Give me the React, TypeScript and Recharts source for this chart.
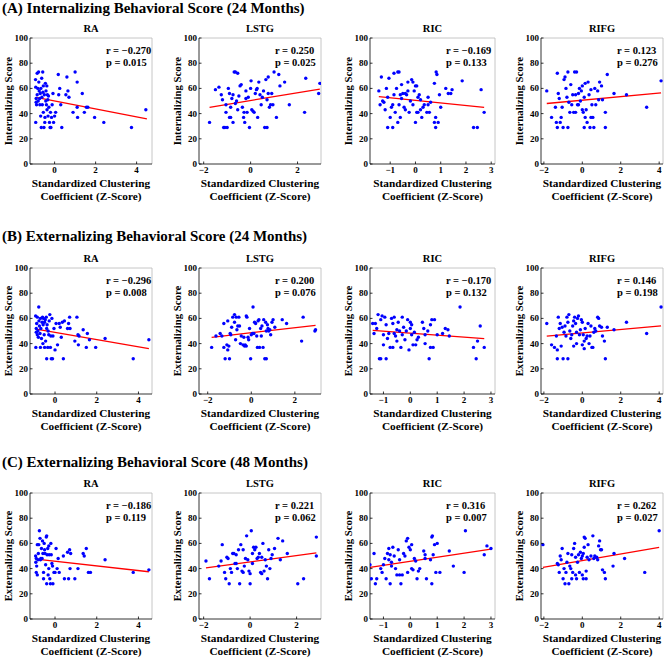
import { ScatterChart, Scatter, XAxis, YAxis, ReferenceLine } from 'recharts';

const FONT = '"Liberation Serif", "Times New Roman", serif';

const ROW_TITLES = [
  '(A) Internalizing Behavioral Score (24 Months)',
  '(B) Externalizing Behavioral Score (24 Months)',
  '(C) Externalizing Behavioral Score (48 Months)',
];
const ROW_YLABELS = ['Internalizing Score', 'Externalizing Score', 'Externalizing Score'];
const REGIONS = ['RA', 'LSTG', 'RIC', 'RIFG'];
const X_TICKS = [[0, 2, 4], [-2, 0, 2], [-1, 0, 1, 2, 3], [-2, 0, 2, 4]];
const Y_TICKS = [0, 20, 40, 60, 80, 100];

const X_DOMAINS = [
  [[-1.2, 4.75], [-2.2, 3.0], [-1.8, 3.15], [-2.15, 4.2]],
  [[-1.2, 4.65], [-2.4, 3.2], [-1.5, 3.15], [-2.15, 4.2]],
  [[-1.2, 4.65], [-2.2, 3.05], [-1.5, 3.15], [-2.15, 4.2]],
];

const R_TEXT = [
  ['r = \u22120.270', 'r = 0.250', 'r = \u22120.169', 'r = 0.123'],
  ['r = \u22120.296', 'r = 0.200', 'r = \u22120.170', 'r = 0.146'],
  ['r = \u22120.186', 'r = 0.221', 'r = 0.316', 'r = 0.262'],
];
const P_TEXT = [
  ['p = 0.015', 'p = 0.025', 'p = 0.133', 'p = 0.276'],
  ['p = 0.008', 'p = 0.076', 'p = 0.132', 'p = 0.198'],
  ['p = 0.119', 'p = 0.062', 'p = 0.007', 'p = 0.027'],
];

// fitted line end points [x1, y1, x2, y2]
const FITS = [
  [[-0.9, 52.8, 4.5, 35.8], [-1.75, 45, 2.95, 59.5], [-1.45, 53.5, 2.72, 45], [-1.85, 48, 4.1, 56.5]],
  [[-0.9, 51.5, 4.5, 36], [-1.82, 45, 2.95, 54.5], [-1.4, 50.5, 2.75, 44], [-1.85, 46, 4.1, 54]],
  [[-0.9, 47.5, 4.5, 37.5], [-1.9, 40.5, 2.85, 52.5], [-1.5, 41, 3.0, 55.5], [-2.05, 41, 4.0, 56.8]],
];

const A_RA = [
  [-0.93, 67], [-0.92, 61], [-0.92, 33], [-0.9, 52], [-0.9, 49], [-0.88, 47], [-0.85, 72], [-0.85, 55],
  [-0.82, 60], [-0.8, 50], [-0.78, 73], [-0.77, 65], [-0.75, 58], [-0.73, 52], [-0.72, 47], [-0.7, 56],
  [-0.68, 38], [-0.67, 60], [-0.65, 29], [-0.63, 68], [-0.62, 53], [-0.6, 47], [-0.58, 73], [-0.57, 57],
  [-0.55, 62], [-0.55, 41], [-0.52, 29], [-0.5, 55], [-0.48, 33], [-0.47, 37], [-0.45, 64], [-0.43, 50],
  [-0.42, 58], [-0.4, 47], [-0.38, 62], [-0.37, 43], [-0.35, 55], [-0.33, 51], [-0.32, 38], [-0.3, 54],
  [-0.28, 45], [-0.25, 33], [-0.22, 29], [-0.2, 41], [-0.18, 29], [-0.15, 37], [-0.12, 47], [-0.08, 56],
  [-0.05, 33], [0.0, 38], [0.05, 41], [0.18, 71], [0.2, 55], [0.25, 60], [0.3, 47], [0.35, 29],
  [0.55, 55], [0.6, 69], [0.65, 58], [0.7, 53], [0.9, 41], [1.0, 73], [1.1, 65], [1.1, 45],
  [1.12, 37], [1.35, 56], [1.45, 41], [1.55, 45], [1.62, 45], [1.95, 37], [2.4, 33], [3.75, 29], [4.45, 43],
];
const A_LSTG = [
  [-1.75, 33], [-1.5, 59], [-1.35, 61], [-1.25, 55], [-1.2, 51], [-1.15, 29], [-1.1, 29], [-1.05, 47],
  [-1.05, 41], [-1.0, 29], [-0.95, 60], [-0.9, 37], [-0.9, 56], [-0.85, 45], [-0.85, 37], [-0.8, 52],
  [-0.75, 33], [-0.75, 55], [-0.7, 73], [-0.65, 73], [-0.65, 48], [-0.6, 50], [-0.55, 72], [-0.55, 43],
  [-0.5, 54], [-0.45, 62], [-0.4, 63], [-0.35, 45], [-0.3, 37], [-0.28, 41], [-0.25, 33], [-0.2, 58],
  [-0.2, 52], [-0.15, 41], [-0.1, 53], [-0.05, 29], [0.0, 60], [0.02, 66], [0.05, 43], [0.1, 42],
  [0.15, 41], [0.2, 56], [0.25, 59], [0.28, 60], [0.3, 37], [0.35, 65], [0.4, 55], [0.45, 47],
  [0.5, 53], [0.55, 58], [0.6, 29], [0.65, 67], [0.7, 29], [0.7, 51], [0.75, 69], [0.75, 56],
  [0.8, 45], [0.85, 47], [0.9, 56], [0.95, 47], [1.0, 73], [1.1, 37], [1.2, 71], [1.25, 62],
  [1.45, 65], [1.65, 47], [2.35, 68], [2.3, 41], [2.9, 56], [2.95, 64],
];
const A_RIC = [
  [-1.45, 58], [-1.4, 47], [-1.35, 69], [-1.3, 50], [-1.25, 49], [-1.2, 43], [-1.15, 60], [-1.1, 29],
  [-1.1, 53], [-1.05, 68], [-1.0, 37], [-0.95, 45], [-0.9, 47], [-0.9, 29], [-0.85, 72], [-0.85, 55],
  [-0.8, 41], [-0.75, 60], [-0.7, 33], [-0.7, 73], [-0.65, 73], [-0.65, 47], [-0.6, 37], [-0.6, 55],
  [-0.55, 63], [-0.55, 52], [-0.5, 56], [-0.45, 45], [-0.4, 56], [-0.4, 43], [-0.35, 55], [-0.3, 65],
  [-0.3, 58], [-0.25, 41], [-0.2, 50], [-0.15, 67], [-0.1, 65], [-0.1, 47], [-0.05, 58], [0.0, 33],
  [0.0, 62], [0.05, 62], [0.05, 41], [0.1, 53], [0.1, 41], [0.15, 55], [0.2, 51], [0.2, 43],
  [0.25, 37], [0.3, 45], [0.35, 47], [0.45, 41], [0.5, 53], [0.5, 47], [0.55, 41], [0.6, 49],
  [0.75, 64], [0.75, 33], [0.8, 37], [0.8, 29], [0.82, 73], [0.85, 71], [0.9, 33], [0.95, 55],
  [1.0, 45], [1.2, 60], [1.3, 56], [1.4, 56], [1.45, 59], [1.85, 66], [2.3, 29], [2.45, 29],
  [2.6, 59], [2.72, 41],
];
const A_RIFG = [
  [-1.85, 58], [-1.6, 37], [-1.4, 45], [-1.35, 33], [-1.3, 29], [-1.3, 72], [-1.25, 56], [-1.2, 52],
  [-1.15, 33], [-1.1, 37], [-1.05, 45], [-1.0, 29], [-0.95, 67], [-0.9, 69], [-0.85, 60], [-0.8, 53],
  [-0.75, 29], [-0.75, 73], [-0.7, 49], [-0.65, 41], [-0.6, 63], [-0.55, 47], [-0.5, 55], [-0.45, 41],
  [-0.4, 73], [-0.35, 55], [-0.35, 41], [-0.3, 73], [-0.25, 47], [-0.2, 56], [-0.2, 47], [-0.15, 60],
  [-0.1, 50], [-0.05, 58], [0.0, 43], [0.0, 62], [0.05, 41], [0.1, 29], [0.1, 53], [0.15, 64],
  [0.15, 37], [0.2, 43], [0.25, 33], [0.3, 65], [0.35, 55], [0.4, 29], [0.45, 37], [0.45, 59],
  [0.5, 47], [0.55, 37], [0.6, 29], [0.65, 60], [0.7, 47], [0.8, 58], [0.85, 51], [0.9, 65],
  [1.0, 62], [1.05, 51], [1.2, 41], [1.2, 29], [1.3, 71], [1.65, 56], [2.3, 55], [3.35, 45], [4.1, 66],
];

const B_RA = [
  [-0.93, 62], [-0.92, 37], [-0.9, 52], [-0.9, 49], [-0.88, 56], [-0.85, 47], [-0.85, 61], [-0.82, 50],
  [-0.8, 45], [-0.78, 69], [-0.77, 58], [-0.75, 54], [-0.72, 48], [-0.7, 37], [-0.7, 60], [-0.68, 52],
  [-0.65, 44], [-0.62, 57], [-0.6, 61], [-0.58, 40], [-0.57, 55], [-0.55, 60], [-0.52, 47], [-0.5, 37],
  [-0.5, 57], [-0.47, 59], [-0.45, 42], [-0.42, 61], [-0.4, 28], [-0.4, 52], [-0.38, 55], [-0.35, 37],
  [-0.33, 50], [-0.3, 47], [-0.28, 58], [-0.25, 63], [-0.22, 37], [-0.2, 46], [-0.18, 28], [-0.15, 60],
  [-0.12, 28], [-0.1, 46], [-0.05, 52], [0.0, 35], [0.05, 56], [0.12, 39], [0.2, 56], [0.25, 53],
  [0.3, 45], [0.35, 57], [0.4, 28], [0.45, 58], [0.6, 52], [0.65, 56], [0.7, 61], [0.72, 52],
  [0.95, 42], [1.05, 61], [1.1, 47], [1.12, 39], [1.15, 46], [1.35, 51], [1.5, 37], [1.55, 48],
  [1.65, 43], [1.95, 37], [2.4, 44], [3.75, 28], [4.5, 43],
];
const B_LSTG = [
  [-1.82, 37], [-1.62, 46], [-1.43, 48], [-1.35, 46], [-1.26, 56], [-1.26, 37], [-1.2, 28], [-1.12, 39],
  [-1.08, 35], [-1.0, 28], [-1.03, 38], [-1.08, 58], [-0.97, 48], [-0.94, 47], [-0.9, 53], [-0.85, 61],
  [-0.77, 63], [-0.77, 57], [-0.72, 43], [-0.69, 61], [-0.66, 51], [-0.62, 54], [-0.57, 61], [-0.54, 54],
  [-0.5, 40], [-0.46, 46], [-0.38, 39], [-0.34, 45], [-0.31, 38], [-0.28, 39], [-0.23, 38], [-0.23, 62],
  [-0.2, 61], [-0.15, 45], [-0.12, 43], [-0.08, 52], [-0.03, 28], [0.0, 47], [0.05, 48], [0.08, 69],
  [0.12, 48], [0.15, 57], [0.2, 56], [0.25, 46], [0.28, 37], [0.31, 58], [0.35, 59], [0.38, 37],
  [0.43, 52], [0.46, 46], [0.49, 54], [0.54, 37], [0.57, 59], [0.62, 28], [0.66, 57], [0.69, 28],
  [0.69, 50], [0.74, 55], [0.77, 52], [0.8, 50], [0.85, 51], [0.89, 47], [0.95, 57], [1.0, 59],
  [1.08, 53], [1.42, 59], [1.62, 56], [2.31, 42], [2.38, 61], [2.92, 50], [2.95, 51],
];
const B_RIC = [
  [-1.4, 56], [-1.35, 48], [-1.3, 56], [-1.25, 52], [-1.2, 63], [-1.15, 28], [-1.1, 28], [-1.1, 59],
  [-1.05, 62], [-1.0, 39], [-1.0, 47], [-0.95, 61], [-0.9, 28], [-0.9, 55], [-0.85, 44], [-0.8, 48],
  [-0.75, 37], [-0.7, 60], [-0.65, 37], [-0.65, 56], [-0.6, 61], [-0.6, 48], [-0.55, 46], [-0.5, 42],
  [-0.5, 51], [-0.45, 57], [-0.4, 50], [-0.35, 37], [-0.3, 61], [-0.3, 47], [-0.25, 53], [-0.2, 43],
  [-0.15, 50], [-0.1, 59], [-0.05, 35], [0.0, 57], [0.0, 52], [0.05, 55], [0.05, 47], [0.1, 39],
  [0.15, 49], [0.2, 39], [0.25, 43], [0.3, 45], [0.45, 57], [0.5, 52], [0.55, 40], [0.55, 47],
  [0.65, 50], [0.7, 28], [0.75, 55], [0.75, 37], [0.8, 59], [0.85, 37], [0.9, 59], [1.0, 47],
  [1.2, 48], [1.3, 52], [1.4, 51], [1.45, 46], [1.85, 69], [2.35, 37], [2.45, 28], [2.5, 42],
  [2.6, 54], [2.75, 37],
];
const B_RIFG = [
  [-1.85, 56], [-1.6, 39], [-1.45, 37], [-1.35, 46], [-1.3, 28], [-1.3, 35], [-1.25, 61], [-1.2, 52],
  [-1.15, 56], [-1.1, 38], [-1.05, 53], [-1.0, 28], [-0.95, 49], [-0.9, 54], [-0.85, 46], [-0.8, 61],
  [-0.75, 28], [-0.75, 57], [-0.7, 63], [-0.65, 50], [-0.6, 44], [-0.55, 47], [-0.5, 54], [-0.45, 38],
  [-0.45, 58], [-0.4, 61], [-0.35, 56], [-0.3, 49], [-0.3, 40], [-0.25, 60], [-0.2, 62], [-0.15, 47],
  [-0.1, 51], [-0.05, 59], [0.0, 39], [0.0, 57], [0.05, 47], [0.1, 42], [0.1, 36], [0.15, 52],
  [0.2, 44], [0.25, 46], [0.3, 56], [0.35, 40], [0.4, 46], [0.45, 54], [0.5, 37], [0.55, 37],
  [0.6, 49], [0.65, 52], [0.7, 50], [0.8, 61], [0.85, 60], [0.9, 54], [1.0, 53], [1.05, 46],
  [1.15, 42], [1.2, 28], [1.3, 53], [1.65, 51], [2.3, 57], [3.35, 48], [4.1, 69],
];

const C_RA = [
  [-0.93, 50], [-0.92, 45], [-0.9, 37], [-0.9, 48], [-0.88, 42], [-0.85, 59], [-0.85, 35], [-0.82, 47],
  [-0.8, 52], [-0.78, 59], [-0.75, 70], [-0.72, 64], [-0.7, 47], [-0.68, 48], [-0.65, 56], [-0.62, 48],
  [-0.6, 62], [-0.58, 52], [-0.55, 37], [-0.55, 32], [-0.52, 60], [-0.5, 55], [-0.48, 52], [-0.45, 43],
  [-0.42, 65], [-0.4, 66], [-0.4, 28], [-0.38, 51], [-0.35, 56], [-0.33, 35], [-0.3, 58], [-0.3, 40],
  [-0.28, 51], [-0.25, 32], [-0.22, 28], [-0.2, 60], [-0.18, 51], [-0.15, 44], [-0.12, 42], [-0.1, 28],
  [-0.05, 37], [0.0, 37], [0.05, 56], [0.1, 40], [0.15, 48], [0.2, 37], [0.4, 50], [0.45, 32],
  [0.6, 53], [0.65, 32], [0.7, 55], [0.72, 40], [0.75, 52], [0.95, 32], [1.1, 40], [1.35, 52],
  [1.4, 50], [1.5, 56], [1.6, 37], [1.7, 37], [2.4, 47], [3.75, 37], [4.5, 39],
];
const C_LSTG = [
  [-1.9, 46], [-1.75, 32], [-1.35, 42], [-1.25, 46], [-1.2, 59], [-1.1, 37], [-1.05, 32], [-1.0, 49],
  [-0.95, 48], [-0.9, 28], [-0.85, 40], [-0.8, 37], [-0.75, 52], [-0.7, 52], [-0.65, 44], [-0.6, 44],
  [-0.6, 51], [-0.55, 40], [-0.5, 55], [-0.45, 28], [-0.4, 59], [-0.35, 38], [-0.3, 37], [-0.3, 55],
  [-0.25, 42], [-0.2, 48], [-0.15, 66], [-0.1, 47], [-0.05, 38], [0.0, 28], [0.0, 36], [0.05, 70],
  [0.1, 52], [0.1, 44], [0.15, 57], [0.2, 55], [0.25, 57], [0.3, 48], [0.35, 49], [0.4, 52],
  [0.45, 37], [0.5, 49], [0.5, 36], [0.55, 60], [0.6, 38], [0.65, 47], [0.7, 42], [0.75, 32],
  [0.8, 55], [0.85, 40], [0.9, 48], [0.95, 51], [1.05, 56], [1.2, 64], [1.3, 47], [1.4, 62],
  [1.6, 52], [2.05, 28], [2.3, 32], [2.85, 65], [2.85, 50],
];
const C_RIC = [
  [-1.5, 43], [-1.45, 32], [-1.35, 52], [-1.3, 28], [-1.25, 32], [-1.1, 40], [-1.05, 37], [-1.0, 43],
  [-0.95, 48], [-0.9, 32], [-0.85, 52], [-0.8, 47], [-0.8, 56], [-0.75, 28], [-0.75, 51], [-0.7, 42],
  [-0.7, 45], [-0.65, 57], [-0.6, 50], [-0.55, 40], [-0.5, 35], [-0.45, 55], [-0.4, 47], [-0.4, 35],
  [-0.35, 28], [-0.3, 35], [-0.25, 52], [-0.2, 50], [-0.15, 62], [-0.1, 37], [-0.1, 64], [-0.05, 57],
  [0.0, 55], [0.05, 40], [0.05, 59], [0.1, 39], [0.15, 48], [0.2, 46], [0.25, 32], [0.3, 38],
  [0.35, 40], [0.5, 54], [0.55, 48], [0.55, 51], [0.6, 32], [0.75, 47], [0.8, 28], [0.8, 65],
  [0.82, 66], [0.85, 51], [0.9, 59], [0.95, 37], [1.0, 60], [1.1, 37], [1.45, 54], [1.6, 42],
  [2.0, 37], [2.05, 70], [2.75, 51], [2.85, 58], [3.0, 56],
];
const C_RIFG = [
  [-2.05, 59], [-1.3, 44], [-1.25, 43], [-1.2, 37], [-1.15, 50], [-1.1, 47], [-1.05, 56], [-1.0, 32],
  [-0.95, 40], [-0.9, 28], [-0.85, 37], [-0.8, 45], [-0.75, 52], [-0.7, 28], [-0.65, 42], [-0.6, 40],
  [-0.55, 32], [-0.55, 51], [-0.5, 37], [-0.45, 56], [-0.4, 60], [-0.35, 35], [-0.35, 49], [-0.3, 32],
  [-0.25, 45], [-0.2, 51], [-0.15, 37], [-0.1, 53], [-0.05, 48], [0.0, 35], [0.0, 50], [0.05, 32],
  [0.05, 52], [0.1, 57], [0.1, 65], [0.15, 64], [0.2, 32], [0.2, 38], [0.25, 49], [0.3, 59],
  [0.35, 47], [0.45, 50], [0.55, 66], [0.6, 48], [0.65, 50], [0.75, 49], [0.8, 47], [0.85, 58],
  [0.9, 62], [0.95, 55], [1.0, 55], [1.05, 39], [1.15, 37], [1.2, 32], [1.6, 42], [1.65, 52],
  [2.2, 48], [3.25, 37], [4.0, 70],
];

const POINTS = [
  [A_RA, A_LSTG, A_RIC, A_RIFG],
  [B_RA, B_LSTG, B_RIC, B_RIFG],
  [C_RA, C_LSTG, C_RIC, C_RIFG],
];

// layout (pixels)
const ROW_TOP = [38, 268, 493];
const TITLE_Y = [13, 241, 467];
const COL_LEFT = [30, 199, 370, 541];
const COL_W = [122, 122, 125, 122];
const PLOT_H = 126;
const GUT_L = 30;
const GUT_T = 8;
const GUT_R = 6;
const GUT_B = 14;

const fmt = (v: number) => (v < 0 ? '\u2212' + Math.abs(v) : String(v));

function XTick(props: any) {
  const { x, y, payload } = props;
  return (
    <g>
      <line x1={x} x2={x} y1={y} y2={y - 2.5} stroke="#000" strokeWidth={0.8} />
      <text x={x} y={y + 9} textAnchor="middle" fontSize={9} fontWeight="bold" fontFamily={FONT} fill="#000">
        {fmt(payload.value)}
      </text>
    </g>
  );
}

function YTick(props: any) {
  const { x, y, payload } = props;
  return (
    <g>
      <line x1={x} x2={x + 2.5} y1={y} y2={y} stroke="#000" strokeWidth={0.8} />
      <text x={x - 2} y={y + 3} textAnchor="end" fontSize={9} fontWeight="bold" fontFamily={FONT} fill="#000">
        {payload.value}
      </text>
    </g>
  );
}

const Dot = (p: any) => <circle cx={p.cx} cy={p.cy} r={1.7} fill="#0000ff" />;

function Panel({ row, col }: { row: number; col: number }) {
  const left = COL_LEFT[col];
  const top = ROW_TOP[row];
  const w = COL_W[col];
  const data = POINTS[row][col].map(([x, y]) => ({ x, y }));
  const [x1, y1, x2, y2] = FITS[row][col];
  const [d0, d1] = X_DOMAINS[row][col];
  return (
    <div style={{ position: 'absolute', left: left - GUT_L, top: top - GUT_T }}>
      <ScatterChart
        width={GUT_L + w + GUT_R}
        height={GUT_T + PLOT_H + GUT_B}
        margin={{ top: GUT_T, right: GUT_R, left: 0, bottom: 0 }}
      >
        <XAxis
          type="number"
          dataKey="x"
          domain={[d0, d1]}
          ticks={X_TICKS[col]}
          allowDataOverflow
          height={GUT_B}
          tickSize={0}
          tickMargin={0}
          interval={0}
          tick={XTick}
          axisLine={{ stroke: '#000', strokeWidth: 0.8 }}
        />
        <YAxis
          type="number"
          dataKey="y"
          domain={[0, 100]}
          ticks={Y_TICKS}
          width={GUT_L}
          tickSize={0}
          tickMargin={0}
          interval={0}
          tick={YTick}
          axisLine={{ stroke: '#000', strokeWidth: 0.8 }}
        />
        <ReferenceLine y={100} stroke="#b8b8b8" strokeWidth={0.8} />
        <ReferenceLine x={d1} stroke="#b8b8b8" strokeWidth={0.8} />
        <Scatter data={data} isAnimationActive={false} shape={Dot} />
        <ReferenceLine
          segment={[{ x: x1, y: y1 }, { x: x2, y: y2 }]}
          stroke="#ff0000"
          strokeWidth={1.3}
        />
      </ScatterChart>
    </div>
  );
}

function Labels() {
  const items: any[] = [];
  ROW_TITLES.forEach((t, r) => {
    items.push(
      <text key={`t${r}`} x={2} y={TITLE_Y[r]} fontSize={15} fontWeight="bold">
        {t}
      </text>,
    );
    REGIONS.forEach((reg, c) => {
      const left = COL_LEFT[c];
      const top = ROW_TOP[r];
      const w = COL_W[c];
      const cx = left + w / 2;
      items.push(
        <g key={`p${r}-${c}`}>
          <text x={cx} y={top - 6.3} textAnchor="middle" fontSize={10.5} fontWeight="bold">
            {reg}
          </text>
          <text x={left + 76} y={top + 15.5} fontSize={10.5} fontWeight="bold">
            {R_TEXT[r][c]}
          </text>
          <text x={left + 76} y={top + 28} fontSize={10.5} fontWeight="bold">
            {P_TEXT[r][c]}
          </text>
          <text
            transform={`translate(${left - 18.5}, ${top + PLOT_H / 2}) rotate(-90)`}
            textAnchor="middle"
            fontSize={10.8}
            fontWeight="bold"
          >
            {ROW_YLABELS[r]}
          </text>
          <text x={cx} y={top + PLOT_H + 22.7} textAnchor="middle" fontSize={11.3} fontWeight="bold">
            Standardized Clustering
          </text>
          <text x={cx} y={top + PLOT_H + 35.5} textAnchor="middle" fontSize={11.3} fontWeight="bold">
            Coefficient (Z-Score)
          </text>
        </g>,
      );
    });
  });
  return (
    <svg
      width={668}
      height={659}
      style={{ position: 'absolute', left: 0, top: 0, pointerEvents: 'none' }}
      fontFamily={FONT}
      fill="#000"
    >
      {items}
    </svg>
  );
}

export default function App() {
  return (
    <div style={{ position: 'absolute', left: 0, top: 0, width: 668, height: 659, background: '#fff' }}>
      {POINTS.map((rowPts, r) => rowPts.map((_p, c) => <Panel key={`${r}-${c}`} row={r} col={c} />))}
      <Labels />
    </div>
  );
}
